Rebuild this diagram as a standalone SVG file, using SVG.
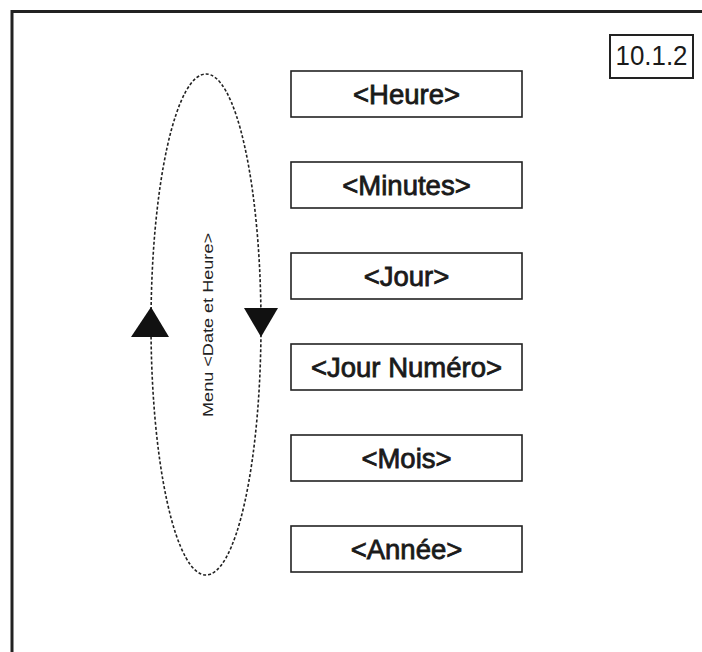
<svg xmlns="http://www.w3.org/2000/svg" width="702" height="652" viewBox="0 0 702 652">
<style>
.box{fill:#fff;stroke:#222;stroke-width:1.6}
.lbl{font-family:"Liberation Sans",Arial,sans-serif;font-size:27.5px;fill:#1a1a1a;stroke:#1a1a1a;stroke-width:0.8;text-anchor:middle}
.num{font-family:"Liberation Sans",Arial,sans-serif;font-size:28px;fill:#1a1a1a;text-anchor:middle}
.loop{fill:none;stroke:#222;stroke-width:1.6;stroke-dasharray:3 2}
.arr{fill:#111}
.side{font-family:"Liberation Sans",Arial,sans-serif;font-size:15px;fill:#222;text-anchor:middle}
</style>
<rect width="702" height="652" fill="#fff"/>
<path d="M12,652 V11.5 H702" fill="none" stroke="#222" stroke-width="3"/>
<g id="ref">
<rect x="610" y="35" width="83" height="43" fill="#fff" stroke="#222" stroke-width="2"/>
<text x="651.5" y="64.5" class="num" textLength="72" lengthAdjust="spacingAndGlyphs">10.1.2</text>
</g>
<g id="connectors">
<ellipse class="loop" cx="206" cy="324.5" rx="55" ry="250.5"/>
<polygon class="arr" points="151,307 131,337 169,337"/>
<polygon class="arr" points="244,308 278,308 261,337"/>
<text class="side" transform="translate(212.5,325) rotate(-90)" x="0" y="0" textLength="184" lengthAdjust="spacingAndGlyphs">Menu &lt;Date et Heure&gt;</text>
</g>
<g id="heure"><rect class="box" x="291" y="71" width="231" height="46"/><text class="lbl" x="406.5" y="103.5">&lt;Heure&gt;</text></g>
<g id="minutes"><rect class="box" x="291" y="162" width="231" height="46"/><text class="lbl" x="406.5" y="194.5">&lt;Minutes&gt;</text></g>
<g id="jour"><rect class="box" x="291" y="253" width="231" height="46"/><text class="lbl" x="406.5" y="285.5">&lt;Jour&gt;</text></g>
<g id="jour-numero"><rect class="box" x="291" y="344" width="231" height="46"/><text class="lbl" x="406.5" y="376.5">&lt;Jour Numéro&gt;</text></g>
<g id="mois"><rect class="box" x="291" y="435" width="231" height="46"/><text class="lbl" x="406.5" y="467.5">&lt;Mois&gt;</text></g>
<g id="annee"><rect class="box" x="291" y="526" width="231" height="46"/><text class="lbl" x="406.5" y="558.5">&lt;Année&gt;</text></g>
</svg>
